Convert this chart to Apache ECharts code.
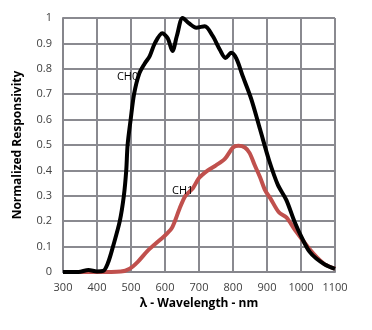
<!DOCTYPE html>
<html>
<head>
<meta charset="utf-8">
<script src="https://cdn.jsdelivr.net/npm/echarts@6/dist/echarts.min.js"></script>
<style>
html,body{margin:0;padding:0;background:#fff;}
#chart{width:372px;height:330px;}
</style>
</head>
<body>
<div id="chart"></div>
<script>
var xTicks = [300, 400, 500, 600, 700, 800, 900, 1000, 1100];
var yTicks = [0, 0.1, 0.2, 0.3, 0.4, 0.5, 0.6, 0.7, 0.8, 0.9, 1];

var ch0Wavelength = [300, 345, 375, 400, 418, 432, 447, 467, 479, 486, 490, 499, 509, 524, 540, 555, 570, 592, 608, 622, 635, 652, 670, 692, 717, 740, 761, 778, 795, 810, 829, 854, 880, 906, 932, 957, 981, 1006, 1025, 1045, 1070, 1100];
var ch0Values = [0, 0, 0.008, 0.002, 0.004, 0.035, 0.1, 0.2, 0.3, 0.4, 0.5, 0.6, 0.7, 0.78, 0.82, 0.85, 0.9, 0.94, 0.92, 0.87, 0.93, 1.0, 0.98, 0.962, 0.968, 0.93, 0.876, 0.843, 0.863, 0.84, 0.77, 0.68, 0.56, 0.44, 0.343, 0.283, 0.198, 0.125, 0.08, 0.053, 0.03, 0.012];

var ch1Wavelength = [300, 400, 470, 496, 520, 550, 584, 605, 622, 643, 660, 682, 700, 726, 750, 776, 800, 816, 835, 849, 864, 879, 895, 910, 935, 957, 980, 1001, 1025, 1045, 1070, 1100];
var ch1Values = [0, 0, 0.002, 0.013, 0.04, 0.085, 0.125, 0.15, 0.178, 0.25, 0.3, 0.33, 0.37, 0.40, 0.42, 0.445, 0.49, 0.497, 0.49, 0.468, 0.42, 0.375, 0.32, 0.29, 0.235, 0.215, 0.17, 0.132, 0.09, 0.06, 0.03, 0.013];

var seriesNames = ['CH0', 'CH1'];
var labelPos = [[490, 0.77], [652, 0.319]];

function pairs(xs, ys) { return xs.map(function (x, i) { return [x, ys[i]]; }); }

var FONT = '"Open Sans", sans-serif';
var AXIS = '#86868c';
var SPLIT = '#8a8a90';
var chart = echarts.init(document.getElementById('chart'));
chart.setOption({
  animation: false,
  grid: {left: 63, right: 37, top: 18, bottom: 58},
  xAxis: {
    type: 'value', min: xTicks[0], max: xTicks[xTicks.length - 1], interval: 100,
    name: 'λ - Wavelength - nm', nameLocation: 'middle', nameGap: 26,
    nameTextStyle: {fontFamily: FONT, fontSize: 12, fontWeight: 'bold', color: '#000'},
    axisLine: {show: true, lineStyle: {color: AXIS, width: 2}},
    axisTick: {show: false},
    axisLabel: {fontFamily: FONT, fontSize: 11, color: '#404040', margin: 10,
                formatter: function (v) { return String(v); }},
    splitLine: {show: true, lineStyle: {color: SPLIT, width: 2}}
  },
  yAxis: {
    type: 'value', min: yTicks[0], max: yTicks[yTicks.length - 1], interval: 0.1,
    name: 'Normalized Responsivity', nameLocation: 'middle', nameGap: 39,
    nameTextStyle: {fontFamily: FONT, fontSize: 12, fontWeight: 'bold', color: '#000'},
    axisLine: {show: true, lineStyle: {color: AXIS, width: 2}},
    axisTick: {show: false},
    axisLabel: {fontFamily: FONT, fontSize: 11, color: '#404040', margin: 11,
                formatter: function (v) { return String(Math.round(v * 10) / 10); }},
    splitLine: {show: true, lineStyle: {color: SPLIT, width: 2}}
  },
  series: [
    {
      name: seriesNames[0], type: 'line', smooth: 0.3, symbol: 'none',
      data: pairs(ch0Wavelength, ch0Values),
      lineStyle: {color: '#000', width: 4},
      z: 3,
      markPoint: {
        symbol: 'circle', symbolSize: 0, silent: true,
        label: {show: true, position: 'inside', formatter: seriesNames[0], fontFamily: FONT, fontSize: 11, color: '#000'},
        data: [{coord: labelPos[0]}]
      }
    },
    {
      name: seriesNames[1], type: 'line', smooth: 0.3, symbol: 'none',
      data: pairs(ch1Wavelength, ch1Values),
      lineStyle: {color: '#c0504d', width: 4},
      z: 2,
      markPoint: {
        symbol: 'circle', symbolSize: 0, silent: true,
        label: {show: true, position: 'inside', formatter: seriesNames[1], fontFamily: FONT, fontSize: 11, color: '#000'},
        data: [{coord: labelPos[1]}]
      }
    }
  ]
});
</script>
</body>
</html>
